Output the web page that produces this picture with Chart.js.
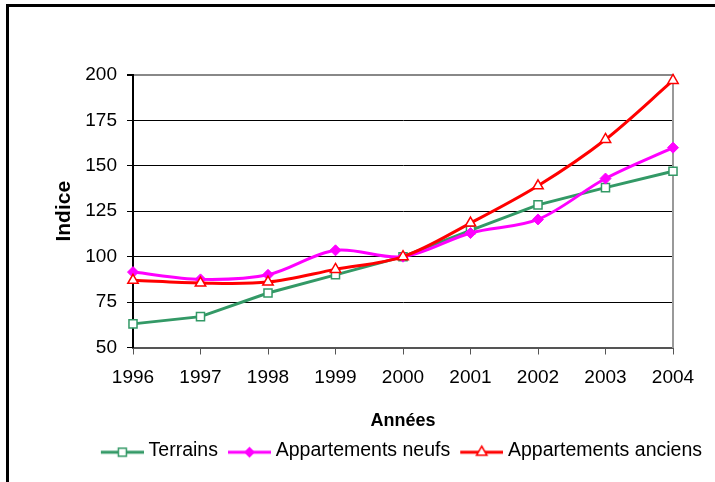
<!DOCTYPE html>
<html>
<head>
<meta charset="utf-8">
<script src="https://cdn.jsdelivr.net/npm/chart.js@4"></script>
<style>
  body { margin: 0; background: #fff; }
  #wrap { position: relative; width: 715px; height: 482px; overflow: hidden; background: #fff; }
  #frame { position: absolute; left: 6px; top: 4px; width: 800px; height: 600px;
           border-left: 3px solid #000; border-top: 3px solid #000; pointer-events: none; }
</style>
</head>
<body>
<div id="wrap">
  <canvas id="myChart" width="715" height="482"></canvas>
  <div id="frame"></div>
</div>
<script>
const years = ["1996", "1997", "1998", "1999", "2000", "2001", "2002", "2003", "2004"];
const terrains = [63, 67, 80, 90, 100, 114.5, 128.5, 138, 147];
const neufs = [91.5, 87.5, 90, 103.5, 100, 113, 120.5, 143, 160];
const anciens = [87, 85.5, 86, 93, 100, 118.5, 139, 164.5, 197];
const yTicks = [50, 75, 100, 125, 150, 175, 200];

const GREEN = "#339966";
const PINK = "#FF00FF";
const RED = "#FF0000";

Chart.defaults.font.family = '"Liberation Sans", Arial, sans-serif';
Chart.defaults.color = "#000";

// little line + marker picture for the legend, like the Excel one
function legendSymbol(color, kind) {
  const c = document.createElement("canvas");
  c.width = 54;
  c.height = 22;
  const g = c.getContext("2d");
  g.strokeStyle = color;
  g.lineWidth = 3;
  g.beginPath();
  g.moveTo(11, 13);
  g.lineTo(54, 13);
  g.stroke();
  const cx = 32.5, cy = 13;
  g.lineWidth = 1.5;
  g.fillStyle = "#fff";
  g.beginPath();
  if (kind === "rect") {
    g.rect(cx - 4, cy - 4, 8, 8);
    g.fill();
    g.stroke();
  } else if (kind === "rectRot") {
    g.fillStyle = color;
    g.moveTo(cx, cy - 5.5);
    g.lineTo(cx + 5.5, cy);
    g.lineTo(cx, cy + 5.5);
    g.lineTo(cx - 5.5, cy);
    g.closePath();
    g.fill();
  } else {
    g.moveTo(cx, cy - 6);
    g.lineTo(cx + 5.2, cy + 3);
    g.lineTo(cx - 5.2, cy + 3);
    g.closePath();
    g.fill();
    g.stroke();
  }
  return c;
}
const symbols = [
  legendSymbol(GREEN, "rect"),
  legendSymbol(PINK, "rectRot"),
  legendSymbol(RED, "triangle"),
];

const ctx = document.getElementById("myChart").getContext("2d");
const chart = new Chart(ctx, {
  type: "line",
  data: {
    labels: years,
    datasets: [
      {
        label: "Terrains",
        data: terrains,
        borderColor: GREEN,
        backgroundColor: "#fff",
        borderWidth: 3,
        tension: 0,
        pointStyle: "rect",
        pointRadius: 5.7,
        pointBorderWidth: 1.5,
        pointBorderColor: GREEN,
        pointBackgroundColor: "#fff",
        clip: false,
        order: 2,
      },
      {
        label: "Appartements neufs",
        data: neufs,
        borderColor: PINK,
        backgroundColor: PINK,
        borderWidth: 3,
        tension: 0.33,
        pointStyle: "rectRot",
        pointRadius: 5.5,
        pointBorderWidth: 1,
        pointBorderColor: PINK,
        pointBackgroundColor: PINK,
        clip: false,
        order: 1,
      },
      {
        label: "Appartements anciens",
        data: anciens,
        borderColor: RED,
        backgroundColor: "#fff",
        borderWidth: 3,
        tension: 0.33,
        pointStyle: "triangle",
        pointRadius: 6,
        pointBorderWidth: 1.5,
        pointBorderColor: RED,
        pointBackgroundColor: "#fff",
        clip: false,
        order: 0,
      },
    ],
  },
  options: {
    responsive: false,
    animation: false,
    layout: { padding: { left: 0, top: 75, right: 9, bottom: 12 } },
    scales: {
      x: {
        offset: false,
        grid: { drawOnChartArea: false, drawTicks: true, tickLength: 7, color: "#555", tickColor: "#555" },
        border: { color: "#555", width: 2 },
        ticks: { font: { size: 19 }, color: "#000", padding: 12, maxRotation: 0, autoSkip: false },
        title: {
          display: true,
          text: "Années",
          font: { size: 18, weight: "bold" },
          color: "#000",
          padding: { top: 0, bottom: 5 },
        },
        afterFit(s) { s.height = 89; },
      },
      y: {
        min: 50,
        max: 200,
        afterBuildTicks(s) { s.ticks = yTicks.map((v) => ({ value: v })); },
        ticks: { font: { size: 19 }, color: "#000", padding: 10 },
        grid: {
          color: (c) => (c.tick && c.tick.value === 200 ? "#888" : "#000"),
          lineWidth: (c) => (c.tick && c.tick.value === 200 ? 2 : 1),
          tickColor: "#000",
          tickLength: 6,
        },
        border: { color: "#000", width: 2 },
        title: {
          display: true,
          text: "Indice",
          font: { size: 21, weight: "bold" },
          color: "#000",
          padding: { top: 52, bottom: 0 },
        },
        afterFit(s) { s.width = 133; },
      },
      yRight: {
        position: "right",
        min: 50,
        max: 200,
        ticks: { display: false },
        grid: { display: false },
        border: { display: true, color: "#999", width: 2 },
        afterFit(s) { s.width = 33; },
      },
    },
    plugins: {
      tooltip: { enabled: false },
      legend: {
        position: "bottom",
        align: "end",
        labels: {
          usePointStyle: true,
          pointStyleWidth: 44,
          padding: 4,
          font: { size: 19.5 },
          color: "#000",
          sort: (a, b) => a.datasetIndex - b.datasetIndex,
          generateLabels(ch) {
            const items = Chart.defaults.plugins.legend.labels.generateLabels(ch);
            items.forEach((it) => { it.pointStyle = symbols[it.datasetIndex]; });
            return items;
          },
        },
      },
    },
  },
});
</script>
</body>
</html>
